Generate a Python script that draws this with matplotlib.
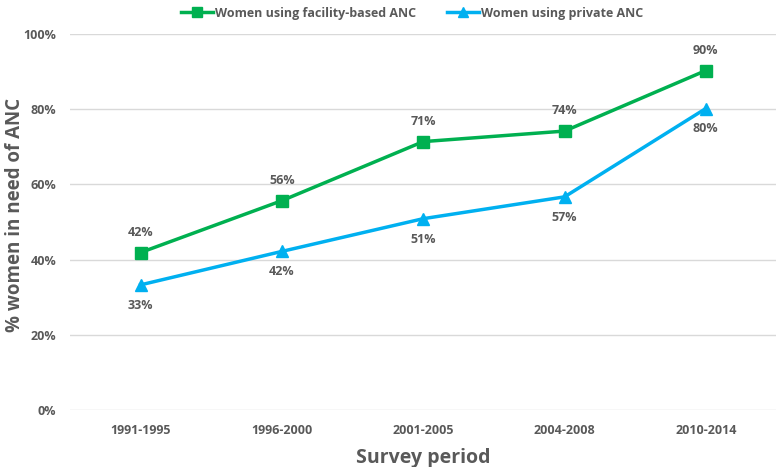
import matplotlib
matplotlib.use("Agg")
import matplotlib.pyplot as plt

periods = ['1991-1995', '1996-2000', '2001-2005', '2004-2008', '2010-2014']
facility = [41.9, 55.7, 71.4, 74.2, 90.3]
private = [33.3, 42.2, 50.9, 56.7, 80.2]
facility_lbl = ['42%', '56%', '71%', '74%', '90%']
private_lbl = ['33%', '42%', '51%', '57%', '80%']

plt.rcParams['font.family'] = ['Open Sans', 'DejaVu Sans']

grey = '#595959'
green = '#00B050'
blue = '#00B0F0'

fig = plt.figure(figsize=(7.78, 4.67), dpi=100)
ax = fig.add_axes([0.090, 0.122, 0.908, 0.805])

x = list(range(len(periods)))
ax.plot(x, facility, color=green, lw=2.5, marker='s', ms=8, label='Women using facility-based ANC')
ax.plot(x, private, color=blue, lw=2.5, marker='^', ms=8, label='Women using private ANC')

for i in x:
    ax.annotate(facility_lbl[i], (i, facility[i]), xytext=(0, 10), textcoords='offset points',
                ha='center', va='bottom', fontsize=9, fontweight='bold', color=grey)
    ax.annotate(private_lbl[i], (i, private[i]), xytext=(0, -10), textcoords='offset points',
                ha='center', va='top', fontsize=9, fontweight='bold', color=grey)

ax.set_xlim(-0.5, 4.5)
ax.set_ylim(0, 100)
ax.set_yticks(range(0, 101, 20))
ax.set_yticklabels([f'{v}%' for v in range(0, 101, 20)])
ax.set_xticks(x)
ax.set_xticklabels(periods)
ax.tick_params(length=0, labelsize=9, labelcolor=grey, pad=10)
for lab in ax.get_xticklabels() + ax.get_yticklabels():
    lab.set_fontweight('bold')
ax.grid(axis='y', color='#D9D9D9', lw=1)
ax.set_axisbelow(True)
for s in ax.spines.values():
    s.set_visible(False)

ax.set_xlabel('Survey period', fontsize=14, fontweight='bold', color=grey, labelpad=8)
ax.set_ylabel('% women in need of ANC', fontsize=13.5, fontweight='bold', color=grey)
ax.yaxis.set_label_coords(-0.078, 0.52)
ax.yaxis.label.set_va('center')

fig.legend(loc='upper center', bbox_to_anchor=(0.53, 1.01), ncol=2, frameon=False,
           prop={'weight': 'bold', 'size': 9}, labelcolor=grey,
           handlelength=2.5, columnspacing=2.5, handletextpad=0.2, markerscale=0.9)

fig.savefig('out.png', dpi=100)
